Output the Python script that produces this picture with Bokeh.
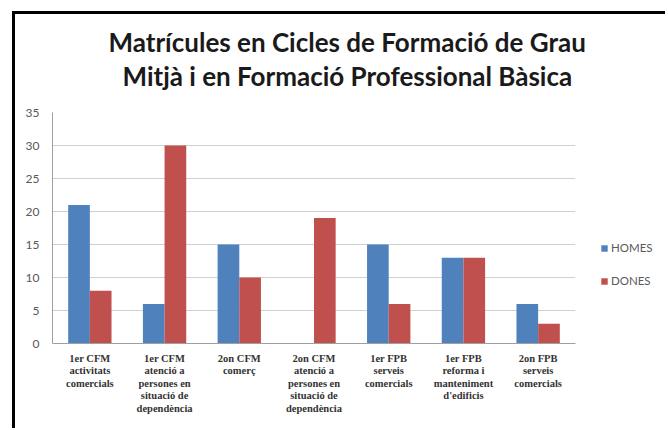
from bokeh.plotting import figure
from bokeh.layouts import row
from bokeh.models import FactorRange, ColumnDataSource, Legend, LegendItem, Title, SingleIntervalTicker
from bokeh.transform import dodge
from bokeh.embed import file_html
from bokeh.resources import INLINE

categories = [
    "1er CFM\nactivitats\ncomercials",
    "1er CFM\natenció a\npersones en\nsituació de\ndependència",
    "2on CFM\ncomerç",
    "2on CFM\natenció a\npersones en\nsituació de\ndependència",
    "1er FPB\nserveis\ncomercials",
    "1er FPB\nreforma i\nmanteniment\nd'edificis",
    "2on FPB\nserveis\ncomercials",
]
homes = [21, 6, 15, 0, 15, 13, 6]
dones = [8, 30, 10, 19, 6, 13, 3]
series = ["HOMES", "DONES"]
title_lines = ["Matrícules en Cicles de Formació de Grau",
               "Mitjà i en Formació Professional Bàsica"]

BLUE = "#4f81bd"
RED = "#c0504d"

src = ColumnDataSource(dict(cat=categories, homes=homes, dones=dones))

p = figure(width=576, height=414, x_range=FactorRange(*categories), y_range=(0, 35),
           output_backend="svg", toolbar_location=None,
           min_border_left=37, min_border_right=16, min_border_top=98, min_border_bottom=85)

r1 = p.vbar(x=dodge("cat", -0.145, range=p.x_range), top="homes", width=0.29,
            source=src, fill_color=BLUE, line_color=None)
r2 = p.vbar(x=dodge("cat", 0.145, range=p.x_range), top="dones", width=0.29,
            source=src, fill_color=RED, line_color=None)

p.outline_line_color = None
p.xgrid.grid_line_color = None
p.ygrid.grid_line_color = "#d0d0d0"
p.ygrid.grid_line_width = 1
p.yaxis.ticker = SingleIntervalTicker(interval=5)
p.yaxis.axis_line_color = "#a0a0a0"
p.xaxis.axis_line_color = "#a0a0a0"
for ax in (p.xaxis[0], p.yaxis[0]):
    ax.major_tick_line_color = None
    ax.minor_tick_line_color = None
p.yaxis.major_label_text_font = "Lato"
p.yaxis.major_label_text_font_size = "12px"
p.yaxis.major_label_text_color = "#595959"
p.yaxis.major_label_standoff = 7
p.xaxis.major_label_text_font = "Liberation Serif"
p.xaxis.major_label_text_font_size = "10.5px"
p.xaxis.major_label_text_font_style = "bold"
p.xaxis.major_label_text_color = "#333333"
p.xaxis.major_label_standoff = 3
p.xaxis.major_label_text_line_height = 1.15
p.x_range.range_padding = 0
p.x_range.factor_padding = 0

# spacer between the frame and the second title line
p.add_layout(Title(text=" ", text_font_size="10px", standoff=8), "above")
offsets = [56, 70]
for line, off in reversed(list(zip(title_lines, offsets))):
    p.add_layout(Title(text=line, align="left", offset=off, text_font="Lato",
                       text_font_size="26px", text_font_style="bold",
                       text_color="#1a1a1a", standoff=0), "above")

# legend panel
lf = figure(width=74, height=414, output_backend="svg", toolbar_location=None,
            min_border=0, x_axis_type=None, y_axis_type=None)
lf.outline_line_color = None
lf.grid.visible = False
dummy = ColumnDataSource(dict(x=[0], top=[0]))
l1 = lf.vbar(x="x", top="top", width=1, source=dummy, fill_color=BLUE, line_color=None)
l2 = lf.vbar(x="x", top="top", width=1, source=dummy, fill_color=RED, line_color=None)
legend = Legend(items=[LegendItem(label=series[0], renderers=[l1]),
                       LegendItem(label=series[1], renderers=[l2])],
                location=(9, 56), border_line_color=None, background_fill_alpha=0,
                label_text_font="Lato", label_text_font_size="11.5px", label_text_color="#595959",
                glyph_width=8, glyph_height=8, label_height=8, spacing=20, padding=0, margin=0,
                label_standoff=3)
lf.add_layout(legend)

layout = row(p, lf)
layout.styles = {"border-top": "3px solid black", "border-left": "3px solid black",
                 "margin-left": "12px", "margin-top": "11px"}

open("out.html", "w").write(file_html(layout, INLINE))
